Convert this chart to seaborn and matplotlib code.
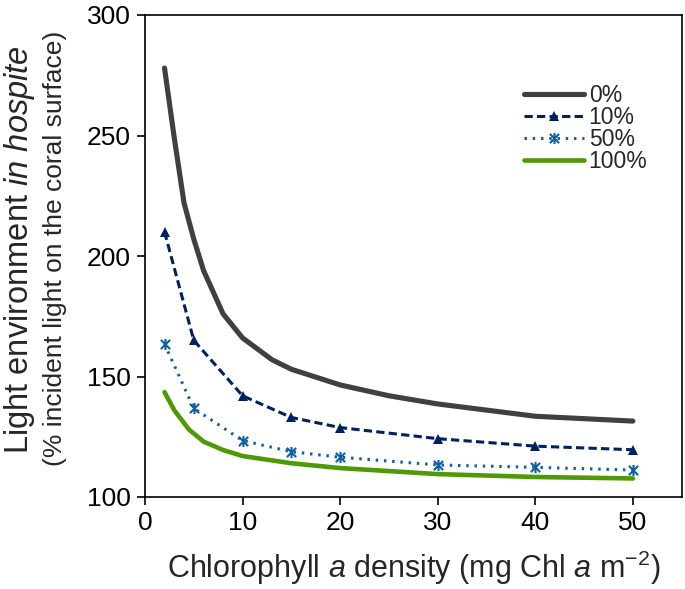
"""
Light environment in hospite vs chlorophyll a density
"""

import matplotlib
matplotlib.use("Agg")
import matplotlib.pyplot as plt
from matplotlib.path import Path
import pandas as pd
import seaborn as sns

# Chlorophyll a density (mg Chl a m-2) where the marked series were computed
chl = [2, 5, 10, 15, 20, 30, 40, 50]
light_10 = [210, 165, 142, 133, 128.8, 124.2, 121.1, 119.6]
light_50 = [163.5, 136.8, 123.4, 118.8, 116.5, 113.3, 112.3, 111.2]

chl_0 = [2, 3, 4, 5, 6, 8, 10, 13, 15, 20, 25, 30, 40, 50]
light_0 = [278, 249, 222, 207, 194, 176, 166, 157, 153, 146.5, 142, 138.6, 133.5, 131.5]
chl_100 = [2, 3, 4.5, 6, 8, 10, 15, 20, 30, 40, 50]
light_100 = [143.5, 136, 128, 123, 119.5, 117, 114, 112, 109.5, 108.3, 107.7]

labels = ["0%", "10%", "50%", "100%"]
xticks = [0, 10, 20, 30, 40, 50]
yticks = [100, 150, 200, 250, 300]

sns.set_style("ticks")
plt.rcParams["font.family"] = ["Liberation Sans", "DejaVu Sans"]
plt.rcParams["mathtext.fontset"] = "custom"
plt.rcParams["mathtext.rm"] = "Liberation Sans"
plt.rcParams["mathtext.it"] = "Liberation Sans:italic"

df = pd.DataFrame({
    "chl": chl_0 + chl + chl + chl_100,
    "light": light_0 + light_10 + light_50 + light_100,
    "series": ["0%"] * len(chl_0) + ["10%"] * len(chl) + ["50%"] * len(chl) + ["100%"] * len(chl_100),
})

# Excel-style star marker: an X with a vertical bar through it
star = Path([(-1, -1), (1, 1), (-1, 1), (1, -1), (0, -1.2), (0, 1.2)],
            [Path.MOVETO, Path.LINETO, Path.MOVETO, Path.LINETO, Path.MOVETO, Path.LINETO])

fig = plt.figure(figsize=(6.85, 5.89), dpi=100)
ax = fig.add_axes([145 / 685, 1 - 497 / 589, (681.7 - 145) / 685, (497 - 15) / 589])

styles = {
    "0%": dict(color="#404040", linewidth=3.7, solid_capstyle="round"),
    "10%": dict(color="#002060", linewidth=2.2, dashes=(2.7, 1.4), marker="^", markersize=7.5,
                markeredgewidth=0),
    "50%": dict(color="#0E5FA3", linewidth=2.2, dashes=(0.8, 1.9), marker=star,
                markersize=8, markeredgewidth=1.5, markeredgecolor="#0E5FA3"),
    "100%": dict(color="#4E9A06", linewidth=3.3, solid_capstyle="round"),
}

for lab in labels:
    sub = df[df["series"] == lab]
    sns.lineplot(data=sub, x="chl", y="light", ax=ax, label=lab, **styles[lab])

ax.set_xlim(0, 55)
ax.set_ylim(100, 300)
ax.set_xticks(xticks)
ax.set_yticks(yticks)
ax.tick_params(labelsize=19, length=6, width=1.2, pad=4, color="black", labelcolor="black")
for sp in ax.spines.values():
    sp.set_color("black")
    sp.set_linewidth(1.2)

ax.set_xlabel(r"Chlorophyll $\it{a}$ density (mg Chl $\it{a}$ m$^{\rm{-2}}$)", fontsize=22, labelpad=10)
ax.set_ylabel("")
fig.text(20 / 685, 1 - 250 / 589, r"Light environment $\it{in\ hospite}$", rotation=90,
         ha="center", va="center", fontsize=23.5)
fig.text(55 / 685, 1 - 248 / 589, "(% incident light on the coral surface)", rotation=90,
         ha="center", va="center", fontsize=19)

leg = ax.legend(loc="upper left", bbox_to_anchor=(0.69, 0.875), frameon=False, fontsize=16.5,
                handlelength=2.6, handletextpad=0.2, labelspacing=-0.05, borderaxespad=0)

plt.savefig("out.png", dpi=100)
plt.close()
